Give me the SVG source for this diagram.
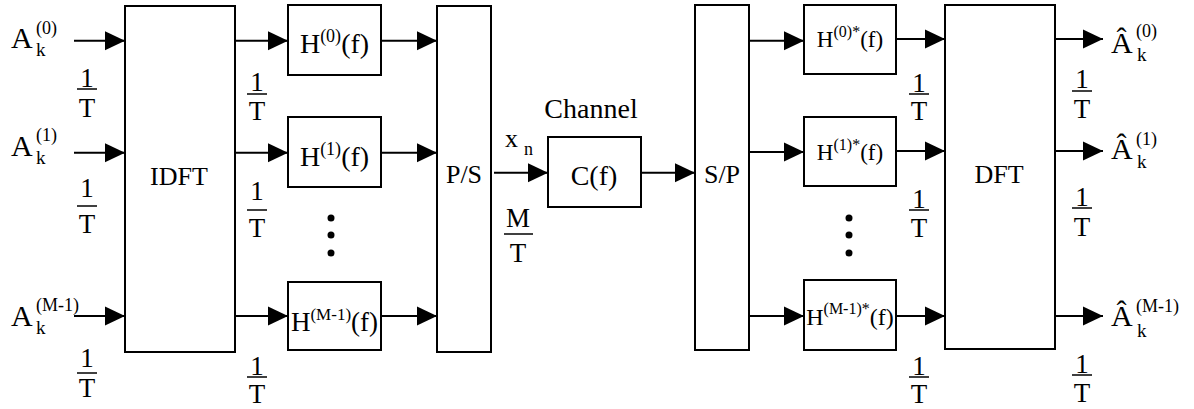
<svg xmlns="http://www.w3.org/2000/svg" width="1194" height="409" viewBox="0 0 1194 409">
<style>
text{font-family:"Liberation Serif","Times New Roman","DejaVu Serif",serif;fill:#000}
.box{fill:#fff;stroke:#000;stroke-width:2}
.ln{stroke:#000;stroke-width:2;fill:none}
.bar{stroke:#000;stroke-width:1.5}
.f{font-size:27px;text-anchor:middle}
.lbl{font-size:26px;text-anchor:middle}
.big{font-size:28px}
.a{font-size:30px}
.s{font-size:18px}
.k{font-size:19px}
</style>
<defs>
<marker id="ah" markerUnits="userSpaceOnUse" markerWidth="20" markerHeight="20" viewBox="0 0 20 20" refX="20" refY="10" orient="auto">
<path d="M0,0.5 L20,10 L0,19.5 z" fill="#000"/>
</marker>
</defs>
<rect width="1194" height="409" fill="#fff"/>
<g id="connectors">
<line class="ln" x1="74" y1="40.7" x2="125" y2="40.7" marker-end="url(#ah)"/>
<line class="ln" x1="74" y1="152.7" x2="125" y2="152.7" marker-end="url(#ah)"/>
<line class="ln" x1="74" y1="316" x2="125" y2="316" marker-end="url(#ah)"/>
<line class="ln" x1="235" y1="40.7" x2="288" y2="40.7" marker-end="url(#ah)"/>
<line class="ln" x1="235" y1="152.7" x2="288" y2="152.7" marker-end="url(#ah)"/>
<line class="ln" x1="235" y1="316" x2="288" y2="316" marker-end="url(#ah)"/>
<line class="ln" x1="381" y1="40.7" x2="437" y2="40.7" marker-end="url(#ah)"/>
<line class="ln" x1="381" y1="152.7" x2="437" y2="152.7" marker-end="url(#ah)"/>
<line class="ln" x1="381" y1="316" x2="437" y2="316" marker-end="url(#ah)"/>
<line class="ln" x1="494" y1="172.7" x2="548" y2="172.7" marker-end="url(#ah)"/>
<line class="ln" x1="641" y1="172.7" x2="695" y2="172.7" marker-end="url(#ah)"/>
<line class="ln" x1="749" y1="40.7" x2="804" y2="40.7" marker-end="url(#ah)"/>
<line class="ln" x1="749" y1="152" x2="804" y2="152" marker-end="url(#ah)"/>
<line class="ln" x1="749" y1="316" x2="804" y2="316" marker-end="url(#ah)"/>
<line class="ln" x1="896" y1="39" x2="945" y2="39" marker-end="url(#ah)"/>
<line class="ln" x1="896" y1="151" x2="945" y2="151" marker-end="url(#ah)"/>
<line class="ln" x1="896" y1="316" x2="945" y2="316" marker-end="url(#ah)"/>
<line class="ln" x1="1055" y1="39" x2="1103" y2="39" marker-end="url(#ah)"/>
<line class="ln" x1="1055" y1="151" x2="1103" y2="151" marker-end="url(#ah)"/>
<line class="ln" x1="1055" y1="316" x2="1103" y2="316" marker-end="url(#ah)"/>
</g>
<g id="idft"><rect class="box" x="125" y="6" width="110" height="346"/><text class="lbl" x="179" y="185">IDFT</text></g>
<g id="h0"><rect class="box" x="288" y="5" width="93" height="70"/><text class="big" x="334.5" y="53" text-anchor="middle">H<tspan class="s" dy="-11">(0)</tspan><tspan dy="11">(f)</tspan></text></g>
<g id="h1"><rect class="box" x="288" y="117" width="93" height="70"/><text class="big" x="334.5" y="166" text-anchor="middle">H<tspan class="s" dy="-11">(1)</tspan><tspan dy="11">(f)</tspan></text></g>
<g id="hm1"><rect class="box" x="288" y="282" width="93" height="68"/><text x="334.5" y="331" text-anchor="middle" font-size="27">H<tspan font-size="17" dy="-11">(M-1)</tspan><tspan dy="11">(f)</tspan></text></g>
<g id="dotsL"><circle cx="331" cy="218" r="3.5"/><circle cx="331" cy="235" r="3.5"/><circle cx="331" cy="253" r="3.5"/></g>
<g id="ps"><rect class="box" x="437" y="6" width="54" height="346"/><text class="lbl" x="464" y="183">P/S</text></g>
<g id="channel"><rect class="box" x="548" y="137" width="93" height="70"/><text x="594" y="185" font-size="28" text-anchor="middle">C(f)</text><text x="591" y="118" font-size="28" text-anchor="middle">Channel</text></g>
<g id="sp"><rect class="box" x="695" y="5" width="54" height="345"/><text class="lbl" x="722" y="183">S/P</text></g>
<g id="hc0"><rect class="box" x="804" y="5" width="92" height="69"/><text x="850" y="47" text-anchor="middle" font-size="23">H<tspan font-size="16" dy="-10">(0)*</tspan><tspan dy="10">(f)</tspan></text></g>
<g id="hc1"><rect class="box" x="804" y="117" width="92" height="69"/><text x="850" y="160" text-anchor="middle" font-size="23">H<tspan font-size="16" dy="-10">(1)*</tspan><tspan dy="10">(f)</tspan></text></g>
<g id="hcm1"><rect class="box" x="804" y="280" width="92" height="70"/><text x="850" y="325" text-anchor="middle" font-size="24">H<tspan font-size="16" dy="-11">(M-1)*</tspan><tspan dy="11">(f)</tspan></text></g>
<g id="dotsR"><circle cx="849" cy="218" r="3.5"/><circle cx="849" cy="235" r="3.5"/><circle cx="849" cy="253" r="3.5"/></g>
<g id="dft"><rect class="box" x="945" y="5" width="110" height="344"/><text class="lbl" x="999" y="183">DFT</text></g>
<g id="inputs">
<text class="a" x="11" y="48">A</text><text class="s" x="36" y="34">(0)</text><text class="k" x="36" y="56">k</text>
<text class="a" x="11" y="156">A</text><text class="s" x="36" y="141">(1)</text><text class="k" x="36" y="164">k</text>
<text class="a" x="11" y="326">A</text><text class="s" x="36" y="311">(M-1)</text><text class="k" x="36" y="334">k</text>
</g>
<g id="outputs">
<text class="a" x="1111" y="53">Â</text><text class="s" x="1136" y="37">(0)</text><text class="k" x="1137" y="61">k</text>
<text class="a" x="1111" y="159">Â</text><text class="s" x="1136" y="145">(1)</text><text class="k" x="1137" y="168">k</text>
<text class="a" x="1111" y="326">Â</text><text class="s" x="1136" y="312">(M-1)</text><text class="k" x="1137" y="337">k</text>
</g>
<g id="rates">
<text class="f" x="87" y="87">1</text><line class="bar" x1="77" y1="89" x2="97" y2="89"/><text class="f" x="87" y="117">T</text>
<text class="f" x="87" y="197">1</text><line class="bar" x1="77" y1="206" x2="97" y2="206"/><text class="f" x="87" y="233">T</text>
<text class="f" x="87" y="367">1</text><line class="bar" x1="77" y1="373" x2="97" y2="373"/><text class="f" x="87" y="397">T</text>
<text class="f" x="257" y="91">1</text><line class="bar" x1="247" y1="94" x2="267" y2="94"/><text class="f" x="257" y="120">T</text>
<text class="f" x="257" y="200">1</text><line class="bar" x1="247" y1="210" x2="267" y2="210"/><text class="f" x="257" y="237">T</text>
<text class="f" x="257" y="375">1</text><line class="bar" x1="247" y1="377" x2="267" y2="377"/><text class="f" x="257" y="403">T</text>
<text class="f" x="919" y="92">1</text><line class="bar" x1="909" y1="94" x2="929" y2="94"/><text class="f" x="919" y="120">T</text>
<text class="f" x="919" y="208">1</text><line class="bar" x1="909" y1="210" x2="929" y2="210"/><text class="f" x="919" y="237">T</text>
<text class="f" x="919" y="375">1</text><line class="bar" x1="909" y1="377" x2="929" y2="377"/><text class="f" x="919" y="403">T</text>
<text class="f" x="1082" y="88">1</text><line class="bar" x1="1072" y1="91" x2="1092" y2="91"/><text class="f" x="1082" y="118">T</text>
<text class="f" x="1082" y="206">1</text><line class="bar" x1="1072" y1="208" x2="1092" y2="208"/><text class="f" x="1082" y="236">T</text>
<text class="f" x="1082" y="373">1</text><line class="bar" x1="1072" y1="375" x2="1092" y2="375"/><text class="f" x="1082" y="402">T</text>
<text class="f" x="518" y="227">M</text><line class="bar" x1="504" y1="234" x2="533" y2="234"/><text class="f" x="518" y="262">T</text>
<text font-size="26" x="505" y="147">x</text><text class="s" x="524" y="155">n</text>
</g>
</svg>
